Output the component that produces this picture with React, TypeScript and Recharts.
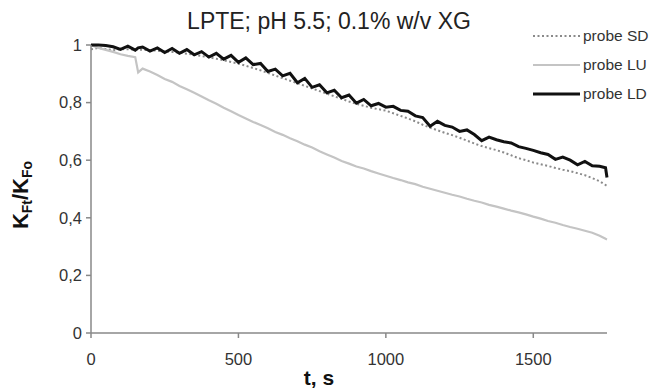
import { Line, LineChart, XAxis, YAxis } from "recharts";

// time, s
const times = [
  0, 25, 50, 75, 100, 125, 150, 160, 175, 200, 225, 250, 275, 300, 325, 350,
  375, 400, 425, 450, 475, 500, 525, 550, 575, 600, 625, 650, 675, 700, 725,
  750, 775, 800, 825, 850, 875, 900, 925, 950, 975, 1000, 1025, 1050, 1075,
  1100, 1125, 1150, 1175, 1200, 1225, 1250, 1275, 1300, 1325, 1350, 1375,
  1400, 1425, 1450, 1475, 1500, 1525, 1550, 1575, 1600, 1625, 1650, 1675,
  1700, 1725, 1745, 1750,
];

const probeSD = [
  0.985, 0.99, 0.986, 0.982, 0.986, 0.985, 0.984, 0.984, 0.983, 0.982, 0.98,
  0.978, 0.976, 0.973, 0.97, 0.966, 0.962, 0.957, 0.952, 0.947, 0.941, 0.935,
  0.928, 0.92, 0.912, 0.903, 0.894, 0.885, 0.876, 0.867, 0.858, 0.849, 0.84,
  0.831, 0.822, 0.813, 0.804, 0.796, 0.789, 0.782, 0.777, 0.772, 0.763, 0.754,
  0.745, 0.735, 0.723, 0.713, 0.704, 0.695, 0.687, 0.678, 0.668, 0.658, 0.649,
  0.642, 0.635, 0.627, 0.617, 0.607, 0.6, 0.592, 0.586, 0.58, 0.573, 0.567,
  0.562, 0.555, 0.548, 0.538, 0.527, 0.514, 0.511,
];

const probeLU = [
  1.0, 0.99, 0.983, 0.976, 0.968, 0.962, 0.958, 0.905, 0.918, 0.908, 0.896,
  0.882, 0.872, 0.858, 0.846, 0.834, 0.821, 0.808, 0.796, 0.782, 0.77, 0.757,
  0.745, 0.733, 0.722, 0.711, 0.698, 0.688, 0.676, 0.666, 0.654, 0.644, 0.631,
  0.62, 0.609, 0.597, 0.588, 0.578, 0.571, 0.562, 0.554, 0.546, 0.538, 0.531,
  0.523, 0.517, 0.508, 0.501, 0.494, 0.487, 0.48, 0.474, 0.466, 0.459, 0.453,
  0.445, 0.439, 0.432, 0.425, 0.419, 0.412, 0.404, 0.397, 0.389, 0.383, 0.375,
  0.368, 0.362, 0.355, 0.348, 0.338, 0.327, 0.325,
];

const probeLD = [
  1.0, 1.0, 0.998, 0.994, 0.985, 0.996, 0.982, 0.99, 0.993, 0.979, 0.99, 0.974,
  0.988, 0.971, 0.984, 0.966, 0.977, 0.958, 0.971, 0.951, 0.964, 0.94, 0.955,
  0.932, 0.936, 0.908, 0.916, 0.893, 0.902, 0.869, 0.884, 0.853, 0.862, 0.834,
  0.843, 0.817, 0.826, 0.798, 0.811, 0.789, 0.797, 0.784, 0.787, 0.773, 0.77,
  0.754, 0.748, 0.718, 0.735, 0.721, 0.715, 0.7, 0.705, 0.689, 0.668, 0.68,
  0.671, 0.664, 0.66, 0.647, 0.641, 0.634, 0.626, 0.62, 0.603, 0.611, 0.6,
  0.584, 0.596, 0.581, 0.579, 0.574, 0.54,
];

const xTicks = [0, 500, 1000, 1500];
const yTicks = [0, 0.2, 0.4, 0.6, 0.8, 1];

const legendItems = [
  { name: "probe SD", color: "#8a8a8a", width: 2, dash: "2 2.5" },
  { name: "probe LU", color: "#c4c4c4", width: 2.2, dash: undefined },
  { name: "probe LD", color: "#111111", width: 3, dash: undefined },
];

const data = times.map((t, i) => ({
  t,
  sd: probeSD[i],
  lu: probeLU[i],
  ld: probeLD[i],
}));

const FONT = "'Liberation Sans', Arial, sans-serif";

const YLabel = ({ viewBox }: any) => {
  const cx = viewBox.x + 28;
  const cy = viewBox.y + viewBox.height / 2 + 6;
  return (
    <text
      x={cx}
      y={cy}
      transform={`rotate(-90, ${cx}, ${cy})`}
      textAnchor="middle"
      fontFamily={FONT}
      fontWeight="bold"
      fontSize={22}
      fill="#111"
    >
      K
      <tspan fontSize={14} dy={4}>
        Ft
      </tspan>
      <tspan dy={-4}>/K</tspan>
      <tspan fontSize={14} dy={4}>
        Fo
      </tspan>
    </text>
  );
};

const XLabel = ({ viewBox }: any) => (
  <text
    x={viewBox.x + viewBox.width / 2 - 30}
    y={viewBox.y + 52}
    textAnchor="middle"
    fontFamily={FONT}
    fontWeight="bold"
    fontSize={21}
    fill="#111"
  >
    t, s
  </text>
);

const fmt = (v: number) => String(v).replace(".", ",");

export default function App() {
  return (
    <div style={{ position: "absolute", left: 0, top: 0, width: 651, height: 390, background: "#fff" }}>
      <LineChart
        width={651}
        height={390}
        data={data}
        margin={{ top: 45, right: 44, bottom: 27, left: 0 }}
      >
        <XAxis
          dataKey="t"
          type="number"
          domain={[0, 1750]}
          ticks={xTicks}
          height={30}
          tickSize={5}
          tickMargin={15}
          axisLine={{ stroke: "#888", strokeWidth: 1.5 }}
          tickLine={{ stroke: "#888", strokeWidth: 1.5 }}
          tick={{ fill: "#333", fontSize: 16.5, fontFamily: FONT }}
          label={<XLabel />}
        />
        <YAxis
          type="number"
          domain={[0, 1]}
          ticks={yTicks}
          width={91}
          tickSize={5}
          tickMargin={4}
          tickFormatter={fmt}
          axisLine={{ stroke: "#888", strokeWidth: 1.5 }}
          tickLine={{ stroke: "#888", strokeWidth: 1.5 }}
          tick={{ fill: "#333", fontSize: 16.5, fontFamily: FONT }}
          label={<YLabel />}
        />
        <Line
          dataKey="sd"
          stroke="#8a8a8a"
          strokeWidth={2}
          strokeDasharray="2 2.5"
          dot={false}
          type="linear"
          isAnimationActive={false}
        />
        <Line
          dataKey="lu"
          stroke="#c4c4c4"
          strokeWidth={2.2}
          dot={false}
          type="linear"
          isAnimationActive={false}
        />
        <Line
          dataKey="ld"
          stroke="#111"
          strokeWidth={3}
          dot={false}
          type="linear"
          isAnimationActive={false}
        />
      </LineChart>
      <div
        style={{
          position: "absolute",
          left: 0,
          top: 10,
          width: 658,
          textAlign: "center",
          fontFamily: FONT,
          fontSize: 23,
          lineHeight: "23px",
          color: "#222",
        }}
      >
        LPTE; pH 5.5; 0.1% w/v XG
      </div>
      <div style={{ position: "absolute", left: 533, top: 21, fontFamily: FONT }}>
        {legendItems.map((it) => (
          <div key={it.name} style={{ display: "flex", alignItems: "center", height: 29 }}>
            <svg width={47} height={10} style={{ marginRight: 3 }}>
              <line
                x1={0}
                y1={5}
                x2={47}
                y2={5}
                stroke={it.color}
                strokeWidth={it.width}
                strokeDasharray={it.dash}
              />
            </svg>
            <span style={{ fontSize: 15.5, color: "#333", whiteSpace: "nowrap" }}>{it.name}</span>
          </div>
        ))}
      </div>
    </div>
  );
}
